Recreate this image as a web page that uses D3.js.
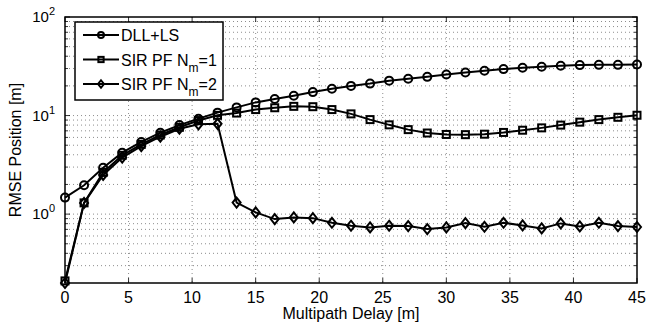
<!DOCTYPE html>
<html>
<head>
<meta charset="utf-8">
<script src="https://cdn.jsdelivr.net/npm/d3@7"></script>
<style>
  body { margin: 0; background: #fff; }
  text { font-family: "Liberation Sans", Arial, sans-serif; fill: #000; }
</style>
</head>
<body>
<svg id="chart" width="647" height="324"></svg>
<script>
// multipath delay [m], one sample every 1.5 m
const delays = d3.range(31).map(i => i * 1.5);

const dllLs = [1.47, 1.96, 2.96, 4.2, 5.4, 6.7, 8.0, 9.3, 10.7, 12.1, 13.6, 14.7, 15.9, 17.3, 18.7, 20.0,
  21.1, 22.6, 23.6, 24.7, 26.1, 27.4, 28.5, 29.6, 30.5, 31.3, 32.0, 32.5, 32.7, 32.7, 33.0];
const sirNm1 = [0.21, 1.3, 2.65, 3.95, 5.1, 6.35, 7.6, 8.9, 10.05, 10.6, 11.5, 12.0, 12.4, 12.3, 11.5, 10.4,
  9.1, 8.05, 7.2, 6.65, 6.43, 6.4, 6.47, 6.74, 7.1, 7.5, 8.0, 8.57, 9.1, 9.6, 10.07];
const sirNm2 = [0.2, 1.3, 2.5, 3.75, 4.9, 6.1, 7.35, 8.15, 8.25, 1.31, 1.04, 0.89, 0.925, 0.91, 0.817, 0.762,
  0.733, 0.762, 0.756, 0.705, 0.733, 0.81, 0.744, 0.817, 0.768, 0.716, 0.805, 0.75, 0.817, 0.756, 0.74];

const series = [
  { name: 'DLL+LS', sub: null, values: dllLs, marker: 'circle' },
  { name: 'SIR PF N', sub: 'm', tail: '=1', values: sirNm1, marker: 'square' },
  { name: 'SIR PF N', sub: 'm', tail: '=2', values: sirNm2, marker: 'diamond' }
];

const xTicks = [0, 5, 10, 15, 20, 25, 30, 35, 40, 45];
const yDecades = [1, 10, 100];

const margin = { top: 17, right: 10, bottom: 41, left: 65 };
const width = 647 - margin.left - margin.right;
const height = 324 - margin.top - margin.bottom;

const svg = d3.select('#chart');
const g = svg.append('g').attr('transform', `translate(${margin.left},${margin.top})`);

const x = d3.scaleLinear().domain([0, 45]).range([0, width]);
const y = d3.scaleLog().domain([0.2, 100]).range([height, 0]);

// minor log ticks
const yMinor = [];
[0.1, 1, 10].forEach(d => { for (let k = 2; k <= 9; k++) { const v = d * k; if (v > 0.2 && v < 100) yMinor.push(v); } });

// dotted grid
const grid = g.append('g').attr('stroke', '#000').attr('stroke-width', 0.6).attr('stroke-dasharray', '1,3').attr('opacity', 0.75);
grid.selectAll('.gx').data(xTicks.slice(1, -1)).enter().append('line')
  .attr('x1', d => x(d)).attr('x2', d => x(d)).attr('y1', 0).attr('y2', height);
grid.selectAll('.gy').data(yMinor.concat([1, 10])).enter().append('line')
  .attr('x1', 0).attr('x2', width).attr('y1', d => y(d)).attr('y2', d => y(d));

// tick marks inside the box
const ticks = g.append('g').attr('stroke', '#000').attr('stroke-width', 0.8);
xTicks.forEach(d => {
  ticks.append('line').attr('x1', x(d)).attr('x2', x(d)).attr('y1', height).attr('y2', height - 5);
  ticks.append('line').attr('x1', x(d)).attr('x2', x(d)).attr('y1', 0).attr('y2', 5);
});
yDecades.forEach(d => {
  ticks.append('line').attr('x1', 0).attr('x2', 5).attr('y1', y(d)).attr('y2', y(d));
  ticks.append('line').attr('x1', width).attr('x2', width - 5).attr('y1', y(d)).attr('y2', y(d));
});
yMinor.forEach(d => {
  ticks.append('line').attr('x1', 0).attr('x2', 3).attr('y1', y(d)).attr('y2', y(d));
  ticks.append('line').attr('x1', width).attr('x2', width - 3).attr('y1', y(d)).attr('y2', y(d));
});

// box
g.append('rect').attr('width', width).attr('height', height)
  .attr('fill', 'none').attr('stroke', '#000').attr('stroke-width', 1.5);

// x tick labels
g.selectAll('.xl').data(xTicks).enter().append('text')
  .attr('x', d => x(d)).attr('y', height + 20).attr('text-anchor', 'middle')
  .attr('font-size', 16).text(d => d);

// y tick labels 10^n
yDecades.forEach(d => {
  const t = g.append('text').attr('x', -10).attr('y', y(d) + 5).attr('text-anchor', 'end').attr('font-size', 15);
  t.append('tspan').text('10');
  t.append('tspan').attr('font-size', 11).attr('dy', -7).text(Math.round(Math.log10(d)));
});

// axis titles
g.append('text').attr('x', width / 2).attr('y', height + 36).attr('text-anchor', 'middle')
  .attr('font-size', 16).text('Multipath Delay [m]');
g.append('text').attr('transform', `translate(${-44},${height / 2}) rotate(-90)`)
  .attr('text-anchor', 'middle').attr('font-size', 16).text('RMSE Position [m]');

// markers
function drawMarker(sel, type, k) {
  if (type === 'circle') {
    sel.append('circle').attr('r', 4 * k);
  } else if (type === 'square') {
    sel.append('rect').attr('x', -3.5 * k).attr('y', -3.5 * k).attr('width', 7 * k).attr('height', 7 * k);
  } else {
    sel.append('path').attr('d', `M0,${-5 * k}L${4 * k},0L0,${5 * k}L${-4 * k},0Z`);
  }
}

const line = d3.line().x((d, i) => x(delays[i])).y(d => y(d));

series.forEach(s => {
  g.append('path').datum(s.values).attr('d', line)
    .attr('fill', 'none').attr('stroke', '#000').attr('stroke-width', 2);
  g.append('g').selectAll('g').data(s.values).enter().append('g')
    .attr('transform', (d, i) => `translate(${x(delays[i])},${y(d)})`)
    .attr('fill', 'none').attr('stroke', '#000').attr('stroke-width', 2)
    .each(function () { drawMarker(d3.select(this), s.marker, 1); });
});

// legend
const legend = g.append('g').attr('transform', 'translate(10,5)');
legend.append('rect').attr('width', 148).attr('height', 78)
  .attr('fill', '#fff').attr('stroke', '#000').attr('stroke-width', 1.5);
series.forEach((s, i) => {
  const row = legend.append('g').attr('transform', `translate(0,${13 + i * 24.5})`);
  row.append('line').attr('x1', 8).attr('x2', 44).attr('y1', 0).attr('y2', 0)
    .attr('stroke', '#000').attr('stroke-width', 2);
  const m = row.append('g').attr('transform', 'translate(26,0)')
    .attr('fill', 'none').attr('stroke', '#000').attr('stroke-width', 2);
  drawMarker(m, s.marker, 0.75);
  const t = row.append('text').attr('x', 46).attr('y', 6).attr('font-size', 16);
  t.append('tspan').text(s.name);
  if (s.sub) {
    t.append('tspan').attr('font-size', 12).attr('dy', 6).text(s.sub);
    t.append('tspan').attr('dy', -6).text(s.tail);
  }
});
</script>
</body>
</html>
